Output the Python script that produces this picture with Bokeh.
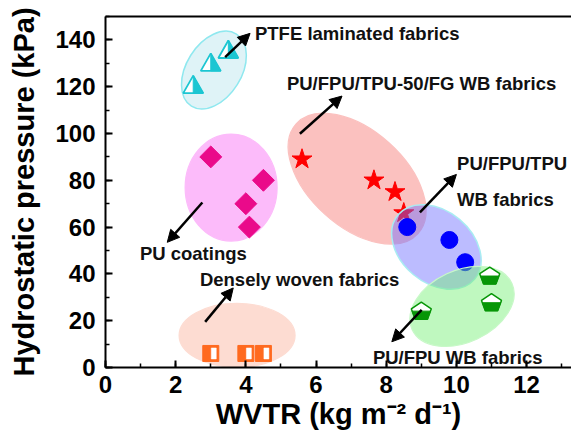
from bokeh.plotting import figure
from bokeh.models import (ColumnDataSource, Arrow, NormalHead, FixedTicker, Range1d,
                          LinearAxis)
from bokeh.embed import file_html
from bokeh.resources import INLINE
from bokeh.core.properties import value

# ---------------- data ----------------
ptfe_x = [2.5, 3.0, 3.5]
ptfe_y = [121, 130.5, 136]
puc_x = [3.0, 4.5, 4.0, 4.1]
puc_y = [90, 80, 70, 60]
dense_x = [3.0, 4.0, 4.5]
dense_y = [6, 6, 6]
fg_x = [5.6, 7.65, 8.25, 8.5]
fg_y = [89, 80, 75, 66]
tpu_x = [8.6, 9.8, 10.25]
tpu_y = [60, 54.5, 45]
fpu_x = [9.0, 10.95, 11.0]
fpu_y = [24.3, 39.3, 27.9]

x_ticks = [0, 2, 4, 6, 8, 10, 12]
y_ticks = [0, 20, 40, 60, 80, 100, 120, 140]

# group ellipses: centre (data), width/height (screen px), angle (deg)
ell_x = [3.09, 3.58, 3.75, 7.17, 9.43, 10.16]
ell_y = [127.1, 76.9, 13.7, 80.7, 51.5, 26.1]
ell_w = [85, 92, 116, 164, 100, 110]
ell_h = [55, 107, 64, 96, 72, 72]
ell_a = [58, 0, 0, -42, -40, 25]

# annotation labels
lab_text = ["PTFE laminated fabrics", "PU/FPU/TPU-50/FG WB fabrics", "PU/FPU/TPU",
            "WB fabrics", "PU coatings", "Densely woven fabrics", "PU/FPU WB fabrics"]
lab_x = [4.26, 5.17, 10.02, 10.02, 0.98, 2.69, 7.62]
lab_y = [142.7, 121.3, 87.1, 71.8, 48.7, 37.6, 4.3]

# annotation arrows
arr_x0 = [3.41, 5.54, 8.96, 2.76, 2.84, 9.01]
arr_y0 = [132.6, 99.9, 66.3, 70.5, 19.5, 24.6]
arr_x1 = [4.12, 6.74, 10.0, 1.76, 3.64, 8.16]
arr_y1 = [142.8, 116.0, 82.5, 53.5, 34.0, 11.0]

# ---------------- layout ----------------
W, H = 571, 436
BL, BR, BT, BB = 105, 0, 16, 69
X0, X1 = 0, 13.28
Y0, Y1 = 0, 150
SX = (W - BL - BR) / (X1 - X0)
SY = (H - BT - BB) / (Y1 - Y0)

FONT = value("Liberation Sans")

p = figure(width=W, height=H, x_range=Range1d(X0, X1), y_range=Range1d(Y0, Y1),
           output_backend="svg", toolbar_location=None,
           min_border_left=BL, min_border_right=BR, min_border_top=BT, min_border_bottom=BB)
p.grid.visible = False
p.outline_line_color = None
p.background_fill_color = "white"
p.border_fill_color = "white"

for ax, ticks, minor in ((p.xaxis[0], x_ticks, list(range(0, 14))),
                         (p.yaxis[0], y_ticks, list(range(0, 151, 10)))):
    ax.ticker = FixedTicker(ticks=ticks, minor_ticks=minor)
    ax.axis_line_width = 2
    ax.axis_line_color = "black"
    ax.major_tick_line_width = 2
    ax.major_tick_line_color = "black"
    ax.minor_tick_line_width = 1.5
    ax.minor_tick_line_color = "black"
    ax.major_tick_in = 7
    ax.major_tick_out = 0
    ax.minor_tick_in = 4
    ax.minor_tick_out = 0
    ax.major_label_text_font = "Liberation Sans"
    ax.major_label_text_font_style = "bold"
    ax.major_label_text_font_size = "24px"
    ax.major_label_text_color = "black"
    ax.axis_label_text_font = "Liberation Sans"
    ax.axis_label_text_font_style = "bold"
    ax.axis_label_text_font_size = "29px"
    ax.axis_label_text_color = "black"

p.xaxis.axis_label = "WVTR (kg m\u207b\u00b2 d\u207b\u00b9)"
p.yaxis.axis_label = "Hydrostatic pressure (kPa)"
p.xaxis.major_label_standoff = 8
p.xaxis.axis_label_standoff = 2
p.yaxis.major_label_standoff = 10
p.yaxis.axis_label_standoff = 12

# top frame line (no ticks, no labels)
top = LinearAxis(ticker=FixedTicker(ticks=[]), major_label_text_font_size="0px",
                 major_tick_in=0, major_tick_out=0, minor_tick_in=0, minor_tick_out=0,
                 axis_line_width=2, axis_line_color="black", major_label_standoff=0)
p.add_layout(top, "above")


def shape(xs, ys, verts):
    px = [[x + dx / SX for dx, dy in verts] for x in xs]
    py = [[y + dy / SY for dx, dy in verts] for y in ys]
    return px, py


def ellipse(i, fill, alpha, line, lw=1.2):
    p.ellipse(x=[ell_x[i]], y=[ell_y[i]], width=[ell_w[i]], height=[ell_h[i]],
              angle=[ell_a[i]], angle_units="deg", width_units="screen", height_units="screen",
              fill_color=fill, fill_alpha=alpha, line_color=line, line_width=lw)


# PTFE laminated fabrics - half-filled triangles
ellipse(0, "#dff3f7", 1.0, "#8fe8ef", 1.5)
CY = "#1cc6d2"
tri = [(0, 8.75), (-10, -8.75), (10, -8.75)]
tri_r = [(0, 8.75), (0, -8.75), (10, -8.75)]
xs, ys = shape(ptfe_x, ptfe_y, tri)
p.patches(xs, ys, fill_color="white", line_color=CY, line_width=1.8)
xs, ys = shape(ptfe_x, ptfe_y, tri_r)
p.patches(xs, ys, fill_color=CY, line_color=CY, line_width=1)

# PU coatings - diamonds
ellipse(1, "#fcbbfa", 1.0, "#fcbbfa")
p.scatter(puc_x, puc_y, marker="square", size=15.5, angle=0.785398,
          fill_color="#ea0a8a", line_color="#ea0a8a")

# Densely woven fabrics - half-filled squares
ellipse(2, "#fddcd2", 1.0, "#fddcd2")
OR = "#ff6a1f"
sq = [(-8, 8), (8, 8), (8, -8), (-8, -8)]
sq_w = [(0.5, 5.5), (5.5, 5.5), (5.5, -5.5), (0.5, -5.5)]
xs, ys = shape(dense_x, dense_y, sq)
p.patches(xs, ys, fill_color=OR, line_color=OR, line_width=1)
xs, ys = shape(dense_x, dense_y, sq_w)
p.patches(xs, ys, fill_color="white", line_color="white", line_width=0.5)

# PU/FPU/TPU-50/FG WB fabrics - stars
ellipse(3, "#fbc1bf", 1.0, "#fbc1bf")
p.scatter(fg_x, fg_y, marker="star", size=21, fill_color="#ff0000", line_color="#ff0000")

# PU/FPU/TPU WB fabrics - circles
ellipse(4, "#6b6bff", 0.45, "#a8ecf2", 1.5)
p.scatter(tpu_x, tpu_y, marker="circle", size=17, fill_color="#0000ff", line_color="#0000ff")

# PU/FPU WB fabrics - half-filled pentagons
ellipse(5, "#70f070", 0.45, "#c8f8c8")
GR = "#079607"
pent = [(0, 8.5), (-10, 1.8), (-6.2, -8.5), (6.2, -8.5), (10, 1.8)]
pent_b = [(-9.15, -0.5), (-6.2, -8.5), (6.2, -8.5), (9.15, -0.5)]
xs, ys = shape(fpu_x, fpu_y, pent)
p.patches(xs, ys, fill_color="white", line_color=GR, line_width=1.5)
xs, ys = shape(fpu_x, fpu_y, pent_b)
p.patches(xs, ys, fill_color=GR, line_color=GR, line_width=1)

# arrows
asrc = ColumnDataSource(dict(x0=arr_x0, y0=arr_y0, x1=arr_x1, y1=arr_y1))
p.add_layout(Arrow(x_start="x0", y_start="y0", x_end="x1", y_end="y1", source=asrc,
                   line_width=2.5, line_color="black",
                   end=NormalHead(size=12, fill_color="black", line_color="black", line_width=1)))

# labels
p.text(x=lab_x, y=lab_y, text=lab_text, text_font=FONT, text_font_style="bold",
       text_font_size="18.5px", text_baseline="middle", text_align="left", text_color="#111111")

open("out.html", "w").write(file_html(p, INLINE))
